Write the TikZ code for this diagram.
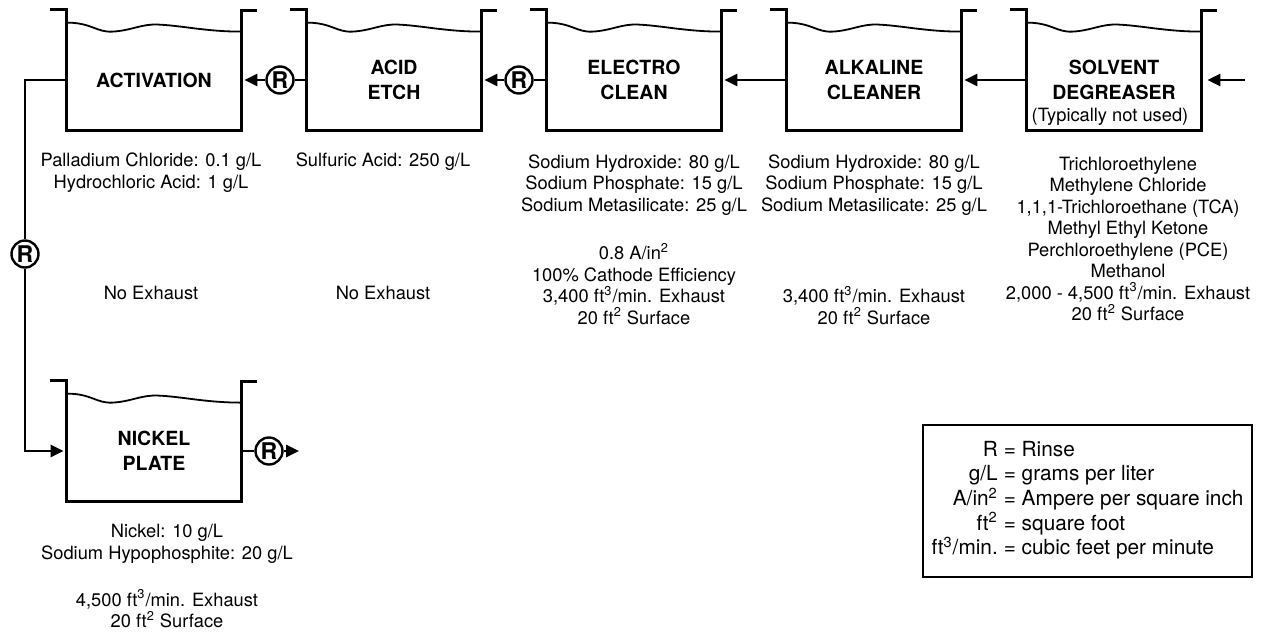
\documentclass[tikz,border=0pt]{standalone}
\usepackage{fontspec}
\setmainfont{TeX Gyre Heros}
\usetikzlibrary{arrows.meta}

\begin{document}
\begin{tikzpicture}[x=0.5pt,y=-0.5pt,
  tank/.style={rectangle,minimum width=87pt,minimum height=50pt,inner sep=0pt,
    align=center,font=\bfseries\fontsize{9.75}{12.5}\selectfont},
  wall/.style={line width=1.6pt},
  wave/.style={line width=0.9pt},
  rinse/.style={circle,draw,line width=1.2pt,minimum size=13.5pt,inner sep=0pt,
    font=\bfseries\fontsize{11.5}{12}\selectfont},
  pipe/.style={line width=1.4pt},
  flow/.style={pipe,-{Triangle[length=6.5pt,width=6pt]},shorten >=1.5pt},
  info/.style={align=center,inner sep=0pt,font=\fontsize{9.15}{10.75}\selectfont},
  key/.style={draw,line width=0.6pt,minimum width=164.5pt,minimum height=76pt,
    inner sep=0pt,font=\fontsize{10.4}{12}\selectfont}]
\useasboundingbox (0,0) rectangle (1262,632);

% tanks
\node[tank] (act) at (154,80) {ACTIVATION};
\node[tank] (etch) at (394,80) {ACID\\ETCH};
\node[tank] (eclean) at (634,80) {ELECTRO\\CLEAN};
\node[tank] (alk) at (874,80) {ALKALINE\\CLEANER};
\node[tank] (solv) at (1114,80) {SOLVENT\\DEGREASER};
\node[info] (solvnote) at (1110,117) {(Typically not used)};
\node[tank] (nick) at (154,451) {NICKEL\\PLATE};

\foreach \t in {act,etch,eclean,alk,solv,nick}{
  \draw[wall] (\t.north west) ++(-17,-20) -- ++(17,0) |- (\t.south east)
    -- ++(0,-120) -- ++(16,0);
  \draw[wave] (\t.north west) ++(0,-7)
    .. controls +(25,0) and +(-16,1) .. ++(46,9)
    .. controls +(19,-1) and +(-17,-1) .. ++(46,-7)
    .. controls +(23,1) and +(-34,0) .. ++(82,7);
}

% rinses
\node[rinse] (r1) at (280,80) {R};
\node[rinse] (r2) at (519,80) {R};
\node[rinse] (r3) at (25,254) {R};
\node[rinse] (r4) at (269,451) {R};
\coordinate (inlet) at (1245,80);
\coordinate (outlet) at (302,451);

% flow
\draw[flow,shorten >=3pt] (inlet) -- (solv);
\draw[flow] (solv) -- (alk);
\draw[flow] (alk) -- (eclean);
\draw[pipe] (eclean) -- (r2);
\draw[flow] (r2) -- (etch);
\draw[pipe] (etch) -- (r1);
\draw[flow] (r1) -- (act);
\draw[pipe] (act.west) -| (r3);
\draw[flow] (r3) |- (nick.west);
\draw[pipe] (nick) -- (r4);
\draw[flow] (r4) -- (outlet);

% bath data
\node[info] (actchem) at (151,172.5) {Palladium Chloride: 0.1 g/L\\Hydrochloric Acid: 1 g/L};
\node[info] (actexh) at (151,293) {No Exhaust};
\node[info] (etchchem) at (383,162) {Sulfuric Acid: 250 g/L};
\node[info] (etchexh) at (383,293) {No Exhaust};
\node[info] (ecchem) at (634,185) {Sodium Hydroxide: 80 g/L\\Sodium Phosphate: 15 g/L\\Sodium Metasilicate: 25 g/L};
\node[info] (ecop) at (634,284) {0.8 A/in\textsuperscript{2}\\100\% Cathode Efficiency\\3,400 ft\textsuperscript{3}/min. Exhaust\\20 ft\textsuperscript{2} Surface};
\node[info] (alkchem) at (874,185) {Sodium Hydroxide: 80 g/L\\Sodium Phosphate: 15 g/L\\Sodium Metasilicate: 25 g/L};
\node[info] (alkexh) at (874,305.5) {3,400 ft\textsuperscript{3}/min. Exhaust\\20 ft\textsuperscript{2} Surface};
\node[info] (solvchem) at (1128,239) {Trichloroethylene\\Methylene Chloride\\1,1,1-Trichloroethane (TCA)\\Methyl Ethyl Ketone\\Perchloroethylene (PCE)\\Methanol\\2,000 - 4,500 ft\textsuperscript{3}/min. Exhaust\\20 ft\textsuperscript{2} Surface};
\node[info] (nickchem) at (167,544) {Nickel: 10 g/L\\Sodium Hypophosphite: 20 g/L};
\node[info] (nickexh) at (167,609) {4,500 ft\textsuperscript{3}/min. Exhaust\\20 ft\textsuperscript{2} Surface};

% legend
\node[key] (legend) at (1087.5,501) {\raisebox{-1.5pt}{\begin{tabular}{@{}r@{\hspace{3pt}}l@{}}
R & = Rinse\\
g/L & = grams per liter\\
A/in\textsuperscript{2} & = Ampere per square inch\\
ft\textsuperscript{2} & = square foot\\
ft\textsuperscript{3}/min. & = cubic feet per minute
\end{tabular}}};
\end{tikzpicture}
\end{document}
